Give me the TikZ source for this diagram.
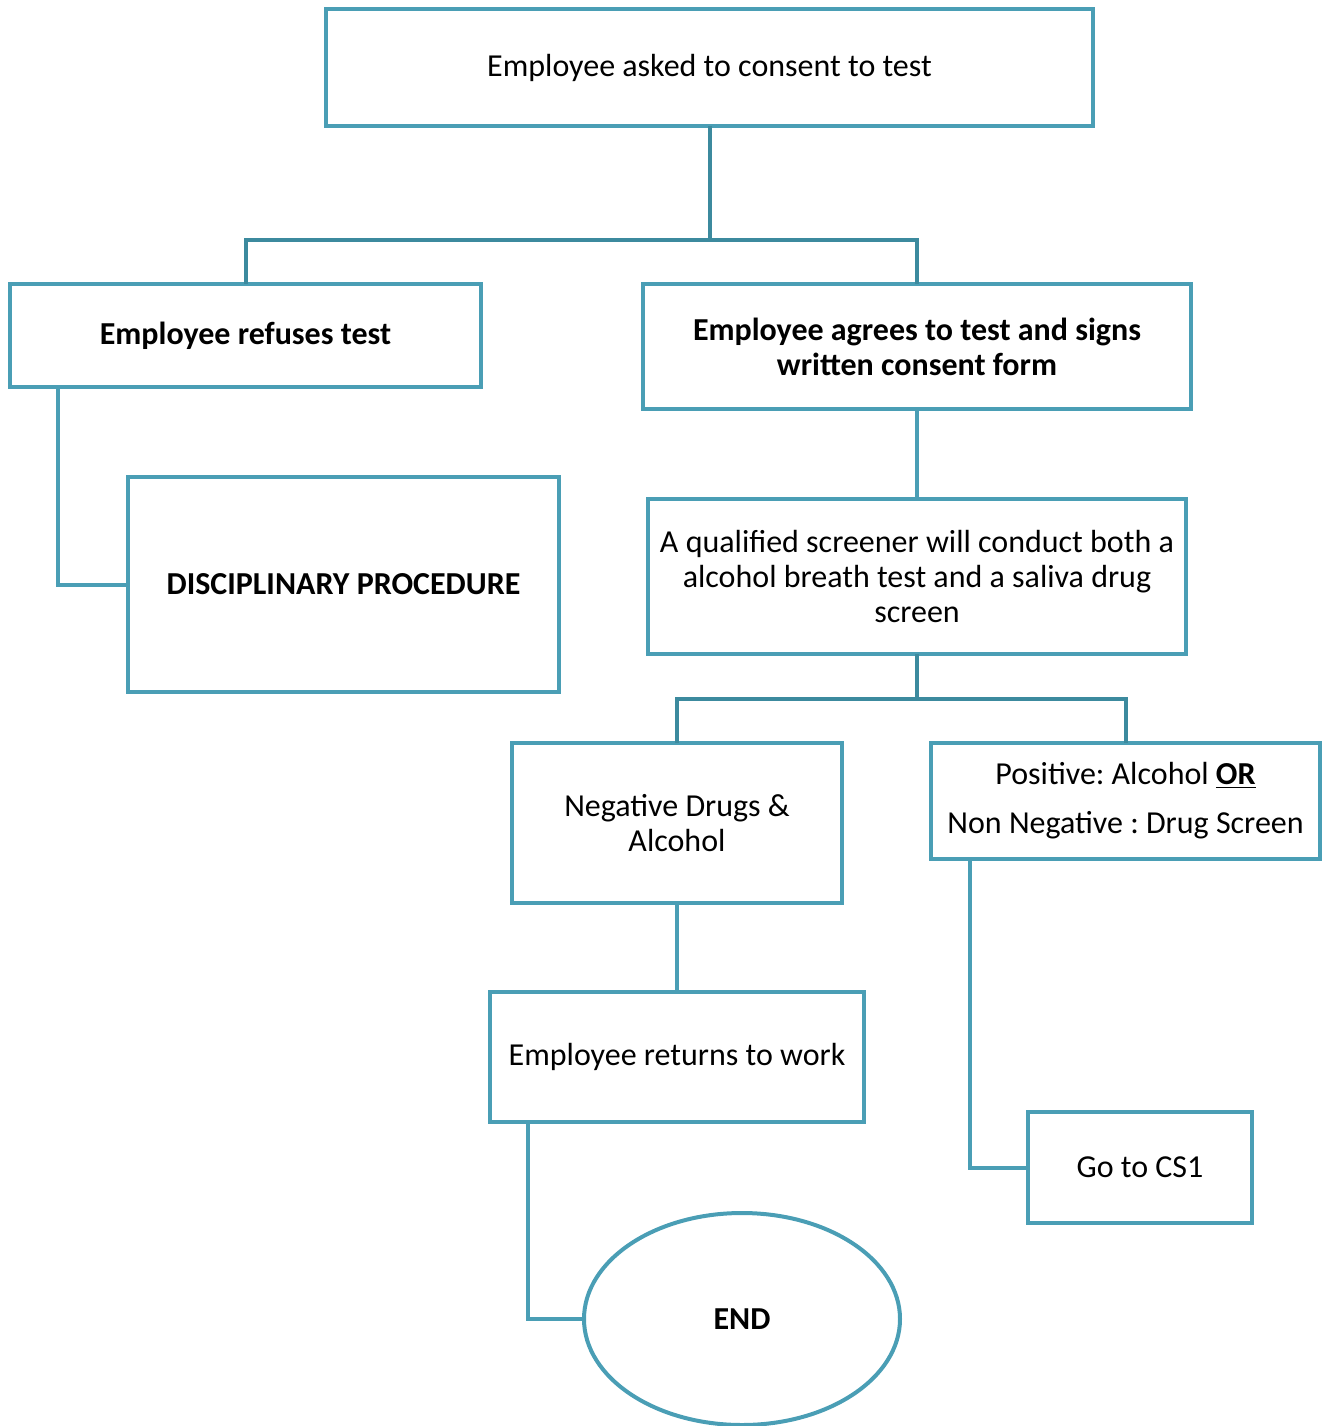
\documentclass[tikz,border=0pt]{standalone}
\usepackage{fontspec}
\setmainfont{Carlito}
\frenchspacing
\usetikzlibrary{calc, positioning}
\usetikzlibrary{shapes.geometric}

\definecolor{boxblue}{RGB}{74,158,181}
\definecolor{trunkblue}{RGB}{60,138,158}

\tikzset{
    stepbox/.style={draw=boxblue, line width=3pt, rectangle, inner sep=0pt, outer sep=0pt,
        align=center, font=\fontsize{24}{26.25}\selectfont},
    link/.style={draw=boxblue, line width=3pt},
}

\begin{document}
\begin{tikzpicture}[x=0.75pt, y=-0.75pt]
\useasboundingbox (0,0) rectangle (1322,1426);

% Boxes
\node[stepbox, minimum width=767*0.75pt, minimum height=117*0.75pt] (consent) at (709.5,67.5)
    {Employee asked to consent to test};
\node[stepbox, minimum width=471*0.75pt, minimum height=103*0.75pt] (refuse) at (245.5,335.5)
    {\textbf{Employee refuses test}};
\node[stepbox, minimum width=548*0.75pt, minimum height=125*0.75pt] (agree) at (917,346.5)
    {\textbf{Employee agrees to test and signs}\\\textbf{written consent form}};
\node[stepbox, minimum width=431*0.75pt, minimum height=215*0.75pt] (disc) at (343.5,584.5)
    {\textbf{DISCIPLINARY PROCEDURE}};
\node[stepbox, minimum width=538*0.75pt, minimum height=155*0.75pt] (screen) at (917,576.5)
    {A qualified screener will conduct both a\\alcohol breath test and a saliva drug\\screen};
\node[stepbox, minimum width=330*0.75pt, minimum height=160*0.75pt] (negative) at (677,823)
    {Negative Drugs \&\\Alcohol};
\node[stepbox, minimum width=389*0.75pt, minimum height=116*0.75pt,
    font=\fontsize{24}{36.75}\selectfont] (positive) at (1125.5,801)
    {Positive: Alcohol \underline{\textbf{OR}}\\Non Negative : Drug Screen};
\node[stepbox, minimum width=374*0.75pt, minimum height=130*0.75pt] (work) at (677,1057)
    {Employee returns to work};
\node[stepbox, minimum width=224*0.75pt, minimum height=111*0.75pt] (cs) at (1140,1167.5)
    {Go to CS1};
\node[stepbox, ellipse, minimum width=316*0.75pt, minimum height=212*0.75pt] (end) at (742,1319)
    {\textbf{END}};

% Junctions
\coordinate (split1) at (709.5,240);
\coordinate (split2) at (917,699);

% Connectors
\draw[link, draw=trunkblue] (consent.south) -- (split1);
\draw[link, draw=trunkblue] (refuse.north) |- (split1) -| (agree.north);
\draw[link] ($(refuse.south west)+(48,0)$) |- (disc.west);
\draw[link] (agree.south) -- (screen.north);
\draw[link, draw=trunkblue] (screen.south) -- (split2);
\draw[link, draw=trunkblue] (negative.north) |- (split2) -| (positive.north);
\draw[link] (negative.south) -- (work.north);
\draw[link] ($(positive.south west)+(39,0)$) |- (cs.west);
\draw[link] ($(work.south west)+(38,0)$) |- (end.west);
\end{tikzpicture}
\end{document}
